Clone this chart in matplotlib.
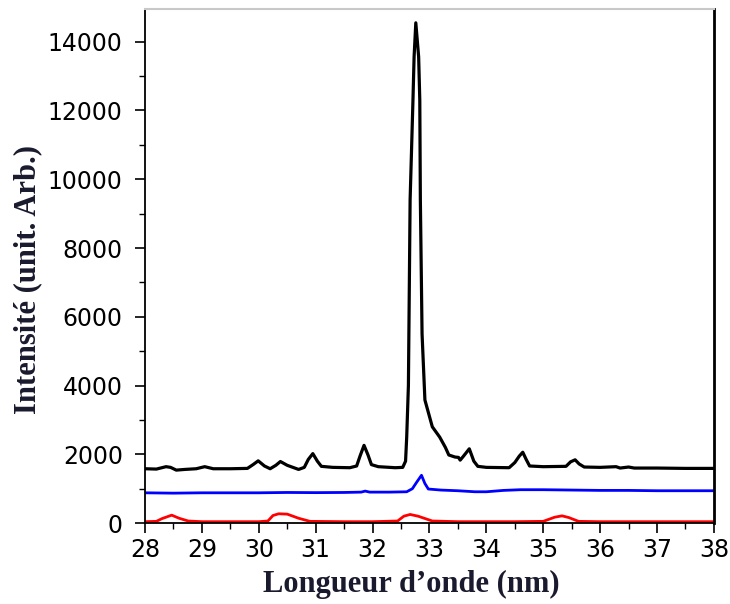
import matplotlib
matplotlib.use("Agg")
import matplotlib.pyplot as plt
from matplotlib.ticker import MultipleLocator

# black spectrum
black_x = [28.00, 28.20, 28.37, 28.45, 28.55, 28.70, 28.90, 29.05, 29.20, 29.50,
           29.80, 29.90, 29.99, 30.10, 30.20, 30.30, 30.38, 30.50, 30.70, 30.80,
           30.87, 30.95, 31.03, 31.10, 31.30, 31.60, 31.72, 31.78, 31.85, 31.92,
           31.98, 32.10, 32.40, 32.53, 32.58, 32.60, 32.63, 32.66, 32.71, 32.73,
           32.76, 32.81, 32.83, 32.84, 32.87, 32.92, 33.05, 33.18, 33.28, 33.34,
           33.45, 33.51, 33.54, 33.60, 33.70, 33.78, 33.85, 34.00, 34.40, 34.50,
           34.58, 34.64, 34.70, 34.76, 35.00, 35.40, 35.48, 35.56, 35.63, 35.72,
           36.00, 36.28, 36.35, 36.50, 36.60, 37.00, 37.50, 38.00]
black_y = [1580, 1570, 1640, 1620, 1540, 1560, 1580, 1640, 1580, 1580,
           1590, 1700, 1810, 1660, 1580, 1680, 1790, 1680, 1560, 1620,
           1850, 2020, 1800, 1650, 1620, 1610, 1660, 1950, 2260, 1980,
           1700, 1640, 1610, 1620, 1800, 2500, 4000, 9400, 12300, 13560,
           14550, 13560, 12300, 9400, 5500, 3580, 2800, 2500, 2200, 1980,
           1920, 1910, 1830, 1950, 2160, 1800, 1650, 1620, 1610, 1760,
           1950, 2060, 1850, 1660, 1640, 1650, 1780, 1840, 1720, 1630,
           1620, 1640, 1600, 1630, 1600, 1600, 1590, 1590]

# blue spectrum
blue_x = [28.00, 28.50, 29.00, 29.50, 30.00, 30.50, 31.00, 31.50, 31.80, 31.87,
          31.95, 32.30, 32.60, 32.70, 32.78, 32.86, 32.92, 32.98, 33.20, 33.50,
          33.80, 34.00, 34.30, 34.60, 35.00, 35.50, 36.00, 36.50, 37.00, 37.50, 38.00]
blue_y = [880, 870, 880, 880, 880, 890, 885, 890, 900, 930,
          900, 900, 910, 1000, 1200, 1390, 1150, 990, 960, 940,
          910, 910, 950, 970, 970, 960, 950, 950, 940, 940, 940]

# red spectrum
red_x = [28.00, 28.20, 28.30, 28.47, 28.60, 28.76, 29.00, 30.00, 30.16, 30.25,
         30.35, 30.50, 30.70, 30.90, 31.50, 32.00, 32.44, 32.55, 32.66, 32.80,
         33.05, 33.50, 34.50, 35.00, 35.20, 35.33, 35.45, 35.62, 36.00, 38.00]
red_y = [40, 50, 130, 230, 140, 60, 40, 40, 60, 220,
         270, 260, 140, 50, 40, 40, 60, 200, 250, 200,
         60, 40, 40, 50, 170, 210, 160, 50, 40, 40]

fig = plt.figure(figsize=(7.3, 6.04), dpi=100)
ax = fig.add_axes([0.1986, 0.134, 0.7794, 0.851])

ax.plot(black_x, black_y, color="black", lw=2.3, solid_joinstyle="round")
ax.plot(blue_x, blue_y, color="#0000ff", lw=2.0, solid_joinstyle="round")
ax.plot(red_x, red_y, color="#ff0000", lw=2.0, solid_joinstyle="round")

ax.set_xlim(28, 38)
ax.set_ylim(0, 14950)
ax.xaxis.set_major_locator(MultipleLocator(1))
ax.xaxis.set_minor_locator(MultipleLocator(0.5))
ax.yaxis.set_major_locator(MultipleLocator(2000))
ax.yaxis.set_minor_locator(MultipleLocator(1000))

ax.tick_params(which="major", direction="out", length=7, width=1.2, labelsize=17)
ax.tick_params(which="minor", direction="out", length=4, width=1.0)
ax.tick_params(axis="y", which="major", pad=9)
ax.tick_params(axis="x", which="major", pad=4)
for lab in ax.get_xticklabels() + ax.get_yticklabels():
    lab.set_family("DejaVu Sans")

ax.spines["top"].set_color("#c8c8c8")
ax.spines["top"].set_linewidth(1.5)
ax.spines["right"].set_linewidth(2.0)
ax.spines["left"].set_linewidth(1.3)
ax.spines["bottom"].set_linewidth(1.3)

ax.set_xlabel("Longueur d\u2019onde (nm)", family="Liberation Serif",
              fontweight="bold", fontsize=22, color="#1a1a2e")
ax.set_ylabel("Intensit\u00e9 (unit. Arb.)", family="Liberation Serif",
              fontweight="bold", fontsize=22, color="#1a1a2e")
ax.xaxis.set_label_coords(0.4675, -0.091)
ax.yaxis.set_label_coords(-0.181, 0.473)

fig.savefig("out.png", dpi=100)
